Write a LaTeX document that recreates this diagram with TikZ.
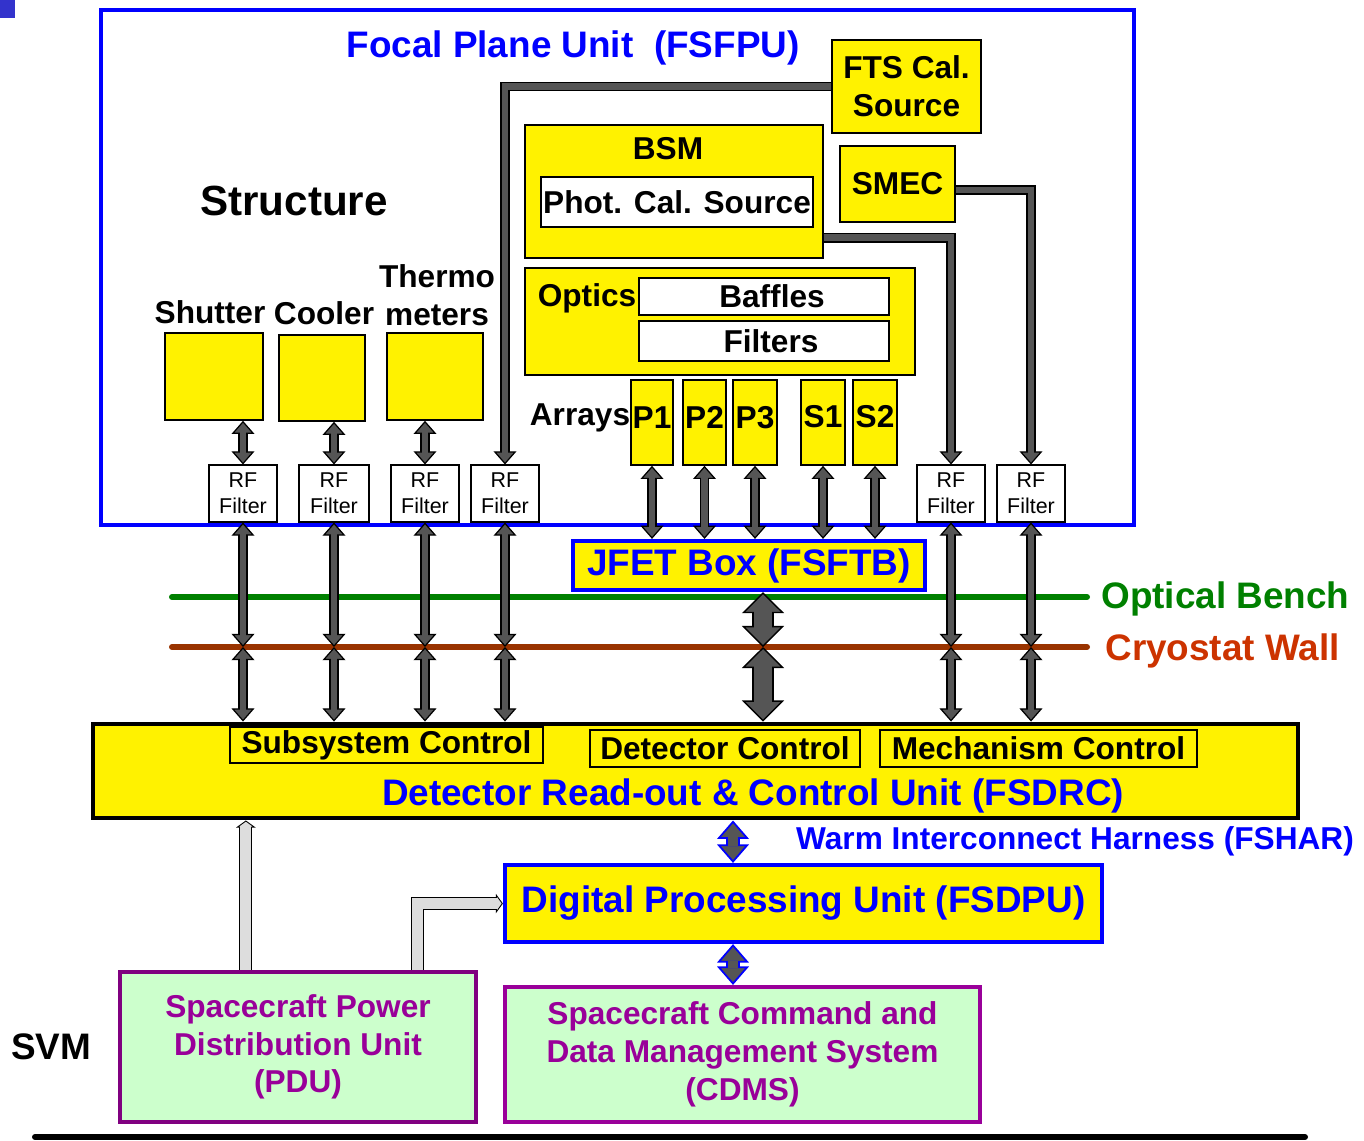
\documentclass[tikz,border=0pt]{standalone}
\usepackage{fontspec}
\setmainfont{Liberation Sans}
\usetikzlibrary{arrows.meta,positioning,fit}

\definecolor{fpblue}{HTML}{0000FF}
\definecolor{benchgreen}{HTML}{008000}
\definecolor{wallbrown}{HTML}{993300}
\definecolor{walltext}{HTML}{CC3300}
\definecolor{svmpurple}{HTML}{800080}
\definecolor{svmmagenta}{HTML}{990099}
\definecolor{svmfill}{HTML}{CCFFCC}
\definecolor{harnfill}{HTML}{555555}
\definecolor{pwrfill}{HTML}{DDDDDD}
\definecolor{cornerblue}{HTML}{3333CC}

\newcommand{\ttlfont}{\fontsize{21}{25}\selectfont\bfseries}
\newcommand{\strfont}{\fontsize{24}{28}\selectfont\bfseries}
\newcommand{\lblfont}{\fontsize{18}{21.5}\selectfont\bfseries}
\newcommand{\rffont}{\fontsize{12.2}{14.7}\selectfont}

\tikzset{
  harnTip/.tip={Triangle[length=7.5pt,width=13pt,fill=harnfill,line width=0.7pt]},
  bigTip/.tip={Triangle[length=12pt,width=24pt,fill=harnfill,line width=0.8pt]},
  warmTip/.tip={Triangle[length=10.5pt,width=18pt,fill=harnfill,line width=1pt]},
  pwrTip/.tip={Triangle[length=4pt,width=11pt,fill=pwrfill,line width=0.5pt]}
}

\begin{document}
\begin{tikzpicture}[x=0.02cm, y=-0.02cm,
    ybox/.style={draw, fill=yellow, line width=0.9pt, inner sep=0pt},
    wbox/.style={draw, fill=white, line width=0.9pt, inner sep=0pt},
    rfbox/.style={draw, fill=white, line width=0.6pt, inner sep=0pt},
    bluebox/.style={draw=fpblue, fill=yellow, line width=2.4pt, inner sep=0pt},
    svmbox/.style={draw=#1, fill=svmfill, line width=2.4pt, inner sep=0pt},
    lbl/.style={font=\lblfont, inner sep=0pt, align=center},
    rftext/.style={font=\rffont, inner sep=0pt, align=center},
    bluetext/.style={font=\ttlfont, inner sep=0pt, text=fpblue},
    svmtext/.style={lbl, text=svmmagenta},
    harness/.style={line width=5.5pt, harnTip-harnTip,
        postaction={draw=harnfill, line width=3.8pt, arrows=-, shorten <=6.5pt, shorten >=6.5pt}},
    feed/.style={line width=5.5pt, line join=miter, -harnTip,
        postaction={draw=harnfill, line width=3.8pt, arrows=-, shorten >=6.5pt}},
    bigharness/.style={line width=12.5pt, bigTip-bigTip,
        postaction={draw=harnfill, line width=10.7pt, arrows=-, shorten <=11pt, shorten >=11pt}},
    warmharness/.style={draw=fpblue, line width=8pt, warmTip-warmTip,
        postaction={draw=harnfill, line width=6.2pt, arrows=-, shorten <=9.5pt, shorten >=9.5pt}},
    pwr/.style={line width=7.4pt, line join=miter, -pwrTip,
        postaction={draw=pwrfill, line width=6.2pt, arrows=-, shorten >=3pt}},
    levelline/.style={line width=3.4pt, line cap=round}
]
\useasboundingbox (0,0) rectangle (1364,1140);
\fill[cornerblue] (0,0) rectangle (15,18);

% focal plane unit contents
\node[lbl, font=\strfont] (structure) at (294,201) {Structure};
\node[ybox, fit={(165,333) (263,420)}] (shutter) {};
\node[ybox, fit={(279,335) (365,421)}] (cooler) {};
\node[ybox, fit={(387,333) (483,420)}] (thermo) {};
\node[lbl] (shutterlbl) at (210,312) {Shutter};
\node[lbl] (coolerlbl) at (324,313) {Cooler};
\node[lbl] (thermolbl) at (437,295) {Thermo\\meters};

\node[ybox, fit={(832,40) (981,133)}, label={[lbl]center:FTS Cal.\\Source}] (fts) {};
\node[ybox, fit={(525,125) (823,258)}] (bsm) {};
\node[lbl] (bsmlbl) at (668,149) {BSM};
\node[wbox, fit={(541,177) (813,227)}, label={[lbl]center:Phot. Cal. Source}] (pcs) {};
\node[ybox, fit={(840,146) (955,222)}, label={[lbl]center:SMEC}] (smec) {};
\node[ybox, fit={(525,268) (915,375)}] (optics) {};
\node[lbl] (opticslbl) at (587,298) {Optics};
\node[wbox, fit={(639,278) (889,315)}, label={[lbl, xshift=0.16cm]center:Baffles}] (baffles) {};
\node[wbox, fit={(639,321) (889,361)}, label={[lbl, xshift=0.14cm]center:Filters}] (filters) {};

\node[lbl] (arrays) at (580,418) {Arrays};
\node[ybox, fit={(631,380) (673,465)}, label={[lbl, yshift=0.1cm]center:P1}] (p1) {};
\node[ybox, fit={(683,380) (726,465)}, label={[lbl, yshift=0.1cm]center:P2}] (p2) {};
\node[ybox, fit={(733,380) (777,465)}, label={[lbl, yshift=0.1cm]center:P3}] (p3) {};
\node[ybox, fit={(801,380) (845,465)}, label={[lbl, yshift=0.12cm]center:S1}] (s1) {};
\node[ybox, fit={(853,380) (897,465)}, label={[lbl, yshift=0.12cm]center:S2}] (s2) {};

\node[rfbox, fit={(209,465) (277,522)}, label={[rftext]center:RF\\Filter}] (rf1) {};
\node[rfbox, fit={(299,465) (369,522)}, label={[rftext]center:RF\\Filter}] (rf2) {};
\node[rfbox, fit={(391,465) (459,522)}, label={[rftext]center:RF\\Filter}] (rf3) {};
\node[rfbox, fit={(471,465) (539,522)}, label={[rftext]center:RF\\Filter}] (rf4) {};
\node[rfbox, fit={(917,465) (985,522)}, label={[rftext]center:RF\\Filter}] (rf5) {};
\node[rfbox, fit={(997,465) (1065,522)}, label={[rftext]center:RF\\Filter}] (rf6) {};

\node[draw=fpblue, line width=2.4pt, inner sep=0pt, fit={(101,10) (1134,525)}] (fsfpu) {};
\node[bluetext] (fsfputitle) at (573,48) {Focal Plane Unit\ \ (FSFPU)};

% bench and wall
\coordinate (obL) at (172,597);
\coordinate (obR) at (1087,597);
\coordinate (cwL) at (172,647);
\coordinate (cwR) at (1087,647);
\draw[levelline, benchgreen] (obL) -- (obR);
\draw[levelline, wallbrown] (cwL) -- (cwR);
\node[bluetext, text=benchgreen, anchor=west] (oblbl) at (1101,599) {Optical Bench};
\node[bluetext, text=walltext, anchor=west] (cwlbl) at (1105,651) {Cryostat Wall};

\node[bluebox, fit={(573,541) (925,590)}, label={[bluetext]center:JFET Box (FSFTB)}] (jfet) {};

% warm units
\node[draw, fill=yellow, line width=2.8pt, inner sep=0pt, fit={(93,724) (1298,818)}] (fsdrc) {};
\node[ybox, fit={(230,727) (543,763)}, label={[lbl]center:Subsystem Control}] (subsys) {};
\node[ybox, fit={(590,730) (860,767)}, label={[lbl]center:Detector Control}] (detctl) {};
\node[ybox, fit={(880,730) (1197,767)}, label={[lbl]center:Mechanism Control}] (mechctl) {};
\node[bluetext] (fsdrclbl) at (753,796) {Detector Read-out \& Control Unit (FSDRC)};

\node[bluebox, fit={(505,865) (1102,942)}, label={[bluetext]center:Digital Processing Unit (FSDPU)}] (fsdpu) {};
\node[lbl, text=fpblue] (fsharlbl) at (1075,841) {Warm Interconnect Harness (FSHAR)};

\node[svmbox=svmpurple, fit={(120,972) (476,1122)},
      label={[svmtext]center:Spacecraft Power\\Distribution Unit\\(PDU)}] (pdu) {};
\node[svmbox=svmmagenta, fit={(505,987) (980,1122)},
      label={[svmtext]center:Spacecraft Command and\\Data Management System\\(CDMS)}] (cdms) {};
\node[bluetext, text=black] (svm) at (51,1047) {SVM};
\coordinate (svmL) at (35,1137);
\coordinate (svmR) at (1305,1137);
\draw[line width=3.4pt, line cap=round] (svmL) -- (svmR);

% harnesses inside the FPU
\draw[harness] (shutter.south -| rf1.north) -- (rf1.north);
\draw[harness] (cooler.south -| rf2.north) -- (rf2.north);
\draw[harness] (thermo.south -| rf3.north) -- (rf3.north);
\draw[feed] (fts.west) -| (rf4.north);
\coordinate (bsmout) at ([yshift=0.42cm]bsm.south east);
\draw[feed] (bsmout) -| (rf5.north);
\coordinate (smecout) at ([yshift=-0.12cm]smec.east);
\draw[feed] (smecout) -| (rf6.north);
\foreach \arr in {p1,p2,p3,s1,s2}
  \draw[harness] (\arr.south) -- (\arr.south |- jfet.north);

% harnesses through the cryostat wall
\foreach \rf in {rf1,rf2,rf3,rf4,rf5,rf6} {
  \draw[harness] (\rf.south) -- (\rf.south |- cwL);
  \draw[harness] (\rf.south |- cwL) -- (\rf.south |- fsdrc.north);
}
\coordinate (jfetout) at ([xshift=0.28cm]jfet.south);
\draw[bigharness] (jfetout) -- (jfetout |- cwL);
\draw[bigharness] (jfetout |- cwL) -- (jfetout |- fsdrc.north);

% warm harness and power
\coordinate (warm) at (733,818);
\draw[warmharness] (warm |- fsdrc.south) -- (warm |- fsdpu.north);
\draw[warmharness] (warm |- fsdpu.south) -- (warm |- cdms.north);
\coordinate (pwrA) at ([xshift=2.56cm]pdu.north west);
\coordinate (pwrB) at ([xshift=6cm]pdu.north west);
\draw[pwr] (pwrA) -- (pwrA |- fsdrc.south);
\draw[pwr] (pwrB) |- (fsdpu.west);
\end{tikzpicture}
\end{document}
